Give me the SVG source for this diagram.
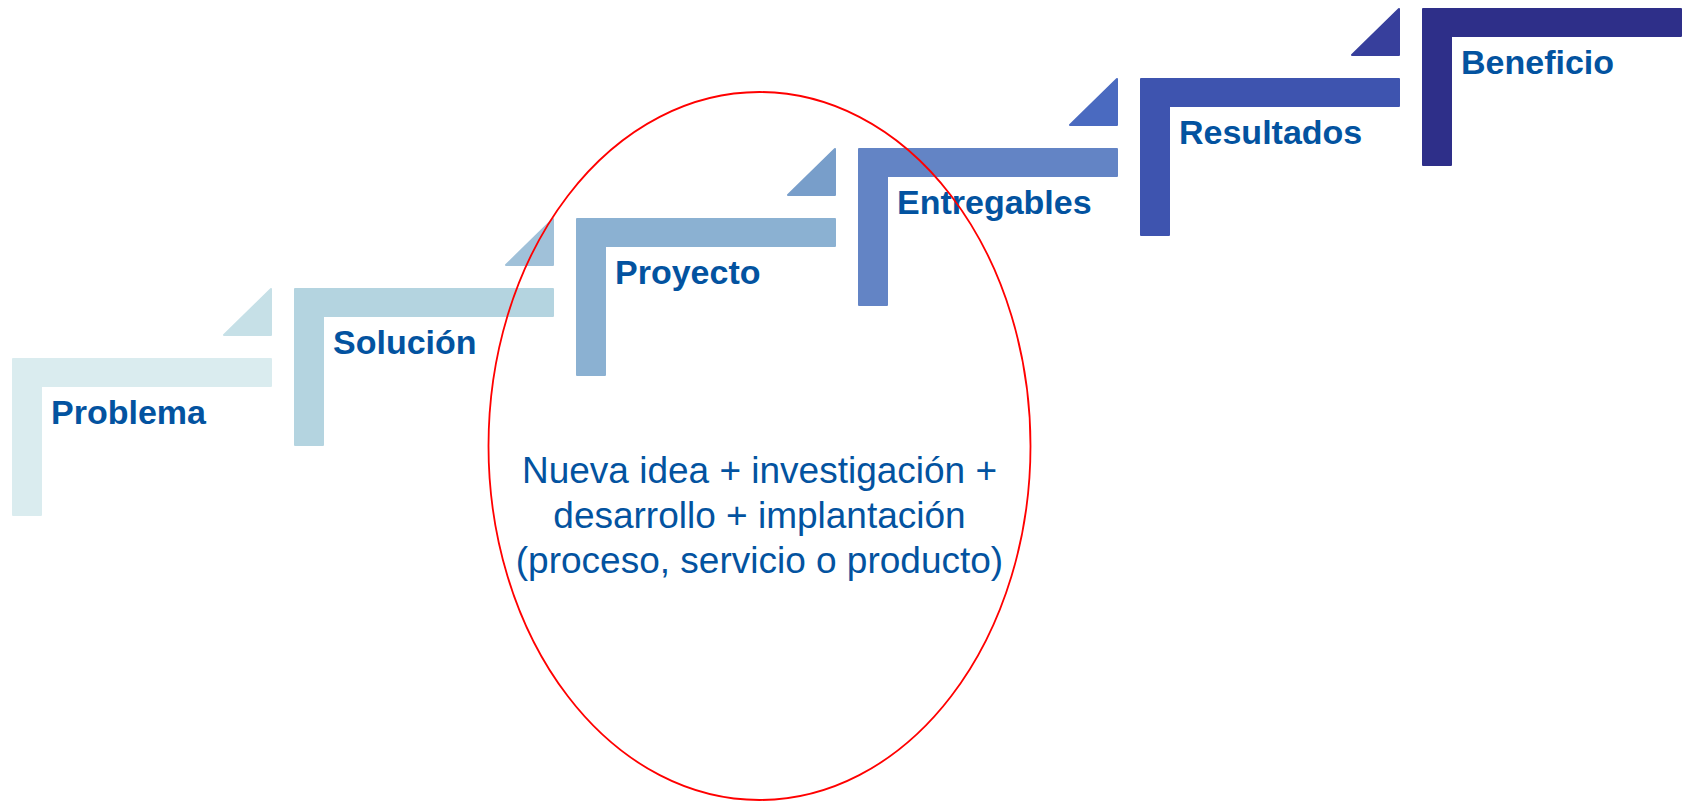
<svg xmlns="http://www.w3.org/2000/svg" xmlns:xlink="http://www.w3.org/1999/xlink" width="1695" height="801" viewBox="0 0 1695 801">
<style>
.shape{stroke-width:2;stroke-linejoin:round}
.lbl{font-family:"Liberation Sans",Arial,sans-serif;font-weight:bold;font-size:34px;fill:#0353A0}
.body{font-family:"Liberation Sans",Arial,sans-serif;font-size:37px;fill:#0353A0;text-anchor:middle}
</style>
<defs>
<path id="L" d="M1,1 H259 V28 H29 V157 H1 Z"/>
<path id="T" d="M-1,1 V47 H-48 Z"/>
</defs>
<rect width="1695" height="801" fill="#ffffff"/>
<g id="problema" transform="translate(12,358)">
<use xlink:href="#L" class="shape" fill="#DAECEF" stroke="#DAECEF"/>
<text class="lbl" x="39" y="66">Problema</text>
</g>
<g id="solucion" transform="translate(294,288)">
<use xlink:href="#T" class="shape" transform="translate(-22,0)" fill="#C6E0E7" stroke="#C6E0E7"/>
<use xlink:href="#L" class="shape" fill="#B4D4E0" stroke="#B4D4E0"/>
<text class="lbl" x="39" y="66">Solución</text>
</g>
<g id="proyecto" transform="translate(576,218)">
<use xlink:href="#T" class="shape" transform="translate(-22,0)" fill="#A0C1D9" stroke="#A0C1D9"/>
<use xlink:href="#L" class="shape" fill="#8BB1D2" stroke="#8BB1D2"/>
<text class="lbl" x="39" y="66">Proyecto</text>
</g>
<g id="entregables" transform="translate(858,148)">
<use xlink:href="#T" class="shape" transform="translate(-22,0)" fill="#789ECA" stroke="#789ECA"/>
<use xlink:href="#L" class="shape" fill="#6384C5" stroke="#6384C5"/>
<text class="lbl" x="39" y="66">Entregables</text>
</g>
<g id="resultados" transform="translate(1140,78)">
<use xlink:href="#T" class="shape" transform="translate(-22,0)" fill="#4A6AC0" stroke="#4A6AC0"/>
<use xlink:href="#L" class="shape" fill="#3E54AF" stroke="#3E54AF"/>
<text class="lbl" x="39" y="66">Resultados</text>
</g>
<g id="beneficio" transform="translate(1422,8)">
<use xlink:href="#T" class="shape" transform="translate(-22,0)" fill="#373F9C" stroke="#373F9C"/>
<use xlink:href="#L" class="shape" fill="#2E2F89" stroke="#2E2F89"/>
<text class="lbl" x="39" y="66">Beneficio</text>
</g>
<g id="connectors"></g>
<g id="innovacion">
<ellipse cx="759.5" cy="446" rx="271" ry="354" fill="none" stroke="#FF0000" stroke-width="1.8"/>
<text class="body" x="759.5" y="483">Nueva idea + investigación +</text>
<text class="body" x="759.5" y="528">desarrollo + implantación</text>
<text class="body" x="759.5" y="573">(proceso, servicio o producto)</text>
</g>
</svg>
